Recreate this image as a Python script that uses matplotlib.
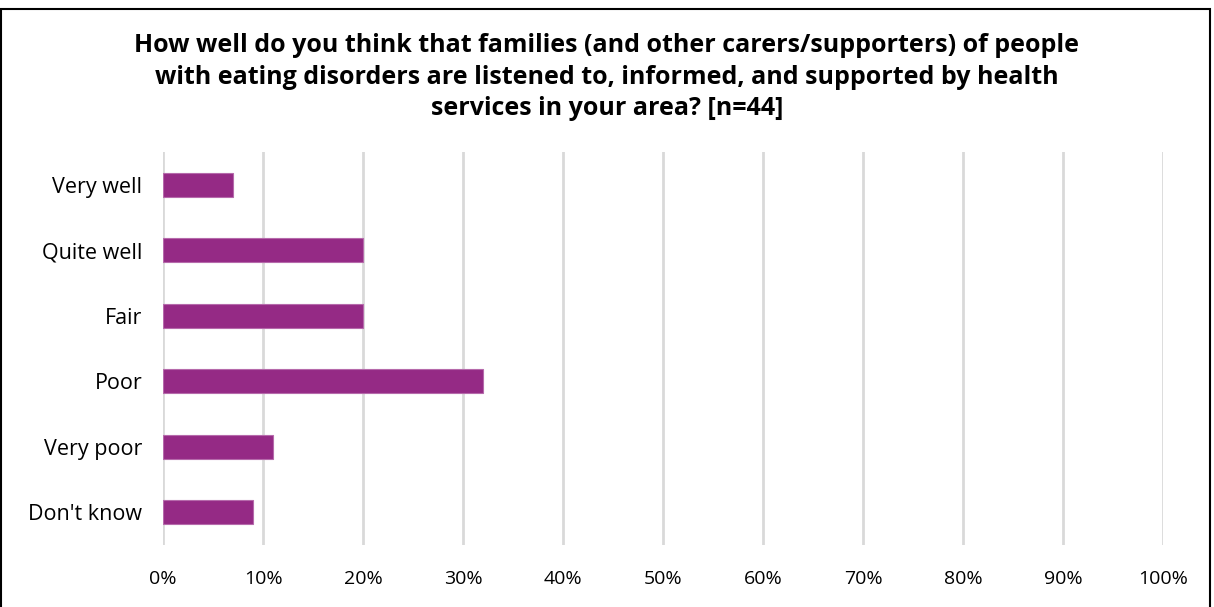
import matplotlib.pyplot as plt
from matplotlib.patches import Rectangle

categories = ['Very well', 'Quite well', 'Fair', 'Poor', 'Very poor', "Don't know"]
percent = [7, 20, 20, 32, 11, 9]
ticks = list(range(0, 101, 10))
title = ('How well do you think that families (and other carers/supporters) of people\n'
         'with eating disorders are listened to, informed, and supported by health\n'
         'services in your area? [n=44]')

plt.rcParams['font.family'] = ['Open Sans', 'DejaVu Sans']

fig = plt.figure(figsize=(12.14, 6.07), dpi=100)
ax = fig.add_axes([0.1343, 0.1021, 0.8238, 0.6475])

y = range(len(categories))
ax.barh(y, percent, height=0.36, color='#952A85', edgecolor='#B66AAB', linewidth=0.8, zorder=3)

ax.set_xlim(0, 100)
ax.set_ylim(len(categories) - 0.5, -0.5)
ax.set_yticks(list(y))
ax.set_yticklabels(categories, fontsize=15.5)
ax.set_xticks(ticks)
ax.set_xticklabels([f'{t}%' for t in ticks], fontsize=14)
ax.tick_params(axis='y', length=0, pad=15)
ax.tick_params(axis='x', length=0, pad=18)
ax.grid(axis='x', color='#D9D9D9', linewidth=2, zorder=0)
for s in ax.spines.values():
    s.set_visible(False)

fig.text(0.5, 0.873, title, ha='center', va='center', fontsize=18,
         fontweight='bold', linespacing=1.33)

# outer frame
fig.patches.append(Rectangle((0.001, -0.01), 0.996, 0.995, transform=fig.transFigure,
                             fill=False, edgecolor='black', linewidth=1.5))

fig.savefig('out.png', dpi=100, facecolor='white')
